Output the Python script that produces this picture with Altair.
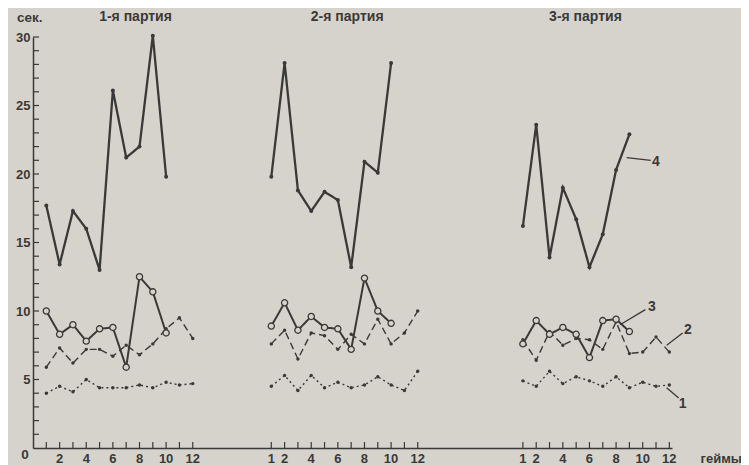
import altair as alt
import pandas as pd

# ---- data (seconds per game) ----
games = list(range(1, 13))

p1_s4 = [17.7, 13.4, 17.3, 16.0, 13.0, 26.1, 21.2, 22.0, 30.1, 19.8]
p1_s3 = [10.0, 8.3, 9.0, 7.8, 8.7, 8.8, 5.9, 12.5, 11.4, 8.4]
p1_s2 = [5.9, 7.3, 6.2, 7.2, 7.2, 6.7, 7.5, 6.8, 7.6, 8.7, 9.5, 8.0]
p1_s1 = [4.0, 4.5, 4.1, 5.0, 4.4, 4.4, 4.4, 4.6, 4.4, 4.8, 4.6, 4.7]

p2_s4 = [19.8, 28.1, 18.8, 17.3, 18.7, 18.1, 13.2, 20.9, 20.1, 28.1]
p2_s3 = [8.9, 10.6, 8.6, 9.6, 8.8, 8.7, 7.2, 12.4, 10.0, 9.1]
p2_s2 = [7.6, 8.6, 6.5, 8.4, 8.2, 7.2, 8.3, 7.6, 9.4, 7.6, 8.4, 10.0]
p2_s1 = [4.5, 5.3, 4.2, 5.3, 4.4, 4.8, 4.4, 4.6, 5.2, 4.6, 4.2, 5.6]

p3_s4 = [16.2, 23.6, 13.9, 19.0, 16.7, 13.2, 15.6, 20.3, 22.9]
p3_s3 = [7.6, 9.3, 8.3, 8.8, 8.3, 6.6, 9.3, 9.4, 8.5]
p3_s2 = [7.9, 6.4, 8.5, 7.5, 8.0, 7.9, 7.2, 9.2, 6.9, 7.0, 8.1, 7.0]
p3_s1 = [4.9, 4.5, 5.6, 4.7, 5.2, 4.9, 4.5, 5.2, 4.4, 4.8, 4.5, 4.6]

party_titles = ["1-я партия", "2-я партия", "3-я партия"]
p1_tick_labels = ["", "2", "", "4", "", "6", "", "8", "", "10", "", "12"]
p23_tick_labels = ["1", "2", "", "4", "", "6", "", "8", "", "10", "", "12"]
y_labels = [5, 10, 15, 20, 25, 30]

# ---- layout constants (not data) ----
W, H = 639, 411
BG = "#d6d3cc"
INK = "#3a3939"
FONT = "Liberation Sans"
OFFSET_EXPR = "datum.game + (datum.party == 1 ? 0 : (datum.party == 2 ? 16.9 : 35.8))"

rows = []
series_sets = {
    1: {"s4": p1_s4, "s3": p1_s3, "s2": p1_s2, "s1": p1_s1},
    2: {"s4": p2_s4, "s3": p2_s3, "s2": p2_s2, "s1": p2_s1},
    3: {"s4": p3_s4, "s3": p3_s3, "s2": p3_s2, "s1": p3_s1},
}
for party, sets in series_sets.items():
    for s, vals in sets.items():
        for g, v in zip(games, vals):
            rows.append({"party": party, "game": g, "series": s, "value": v})
df = pd.DataFrame(rows)

tick_rows = []
for party in (1, 2, 3):
    labs = p1_tick_labels if party == 1 else p23_tick_labels
    for g, lab in zip(games, labs):
        tick_rows.append({"party": party, "game": g, "label": lab})
ticks_df = pd.DataFrame(tick_rows)

xs = alt.Scale(domain=[0, 48], nice=False, zero=False)
ys = alt.Scale(domain=[0, 30], nice=False, zero=False)

X = alt.X("u:Q", scale=xs,
          axis=alt.Axis(title=None, labels=False, ticks=False, grid=False,
                        domainColor=INK, domainWidth=1.5))
Y = alt.Y("value:Q", scale=ys,
          axis=alt.Axis(title=None, values=y_labels, ticks=False, grid=False,
                        domainColor=INK, domainWidth=1.5, labelColor=INK,
                        labelFont=FONT, labelFontSize=13, labelFontWeight="bold",
                        labelPadding=3))

base = alt.Chart(df).transform_calculate(u=OFFSET_EXPR)


def series_layer(s, width, dash, point_size, filled):
    d = base.transform_filter(alt.datum.series == s)
    line = d.mark_line(color=INK, strokeWidth=width, strokeDash=dash).encode(
        x=X, y=Y, detail="party:N")
    if filled:
        pts = d.mark_point(filled=True, color=INK, size=point_size, opacity=1).encode(
            x="u:Q", y="value:Q")
    else:
        pts = d.mark_point(filled=True, fill=BG, stroke=INK, strokeWidth=1.3,
                           size=point_size, opacity=1).encode(x="u:Q", y="value:Q")
    return line + pts


l1 = series_layer("s1", 1.4, [2, 3], 12, True)
l2 = series_layer("s2", 1.4, [7, 4], 12, True)
l3 = series_layer("s3", 2.0, [1, 0], 38, False)
l4 = series_layer("s4", 2.3, [1, 0], 16, True)

tbase = alt.Chart(ticks_df).transform_calculate(u=OFFSET_EXPR)
xticks = tbase.mark_rule(color=INK, strokeWidth=1.2).encode(
    x="u:Q", y=alt.value(H), y2=alt.value(H - 6))
xlabels = tbase.mark_text(color=INK, font=FONT, fontSize=13, fontWeight="bold",
                          baseline="middle").encode(
    x="u:Q", y=alt.value(H + 11), text="label:N")

ytick_df = pd.DataFrame({"value": list(range(1, 31))})
yticks = alt.Chart(ytick_df).mark_rule(color=INK, strokeWidth=1.2).encode(
    y="value:Q", x=alt.value(0), x2=alt.value(6))

# titles and axis captions (positions in data coordinates)
titles_df = pd.DataFrame({"u": [7.7, 23.6, 41.5], "value": [31.45, 31.45, 31.45],
                          "text": party_titles})
titles = alt.Chart(titles_df).mark_text(color=INK, font=FONT, fontSize=14,
                                        fontWeight="bold").encode(
    x="u:Q", y="value:Q", text="text:N")

caps_df = pd.DataFrame({"u": [-0.25, -0.6], "value": [31.4, -0.5],
                        "text": ["сек.", "0"]})
caps = alt.Chart(caps_df).mark_text(color=INK, font=FONT, fontSize=13.5,
                                    fontWeight="bold").encode(
    x="u:Q", y="value:Q", text="text:N")
geimy = alt.Chart(pd.DataFrame({"u": [51.7], "t": ["геймы"]})).mark_text(
    color=INK, font=FONT, fontSize=13, fontWeight="bold", baseline="middle").encode(
    x="u:Q", y=alt.value(H + 11), text="t:N")

# series leader lines and numbers
lead_df = pd.DataFrame({
    "u": [44.6, 44.1, 47.6, 47.6],
    "value": [21.2, 9.0, 7.5, 4.4],
    "u2": [46.4, 46.0, 48.8, 48.5],
    "value2": [21.0, 10.1, 8.4, 3.65],
})
leads = alt.Chart(lead_df).mark_rule(color=INK, strokeWidth=1.3).encode(
    x="u:Q", y="value:Q", x2="u2:Q", y2="value2:Q")
nums_df = pd.DataFrame({"u": [46.5, 46.2, 48.9, 48.5], "value": [20.9, 10.3, 8.6, 3.2],
                        "text": ["4", "3", "2", "1"]})
nums = alt.Chart(nums_df).mark_text(color=INK, font=FONT, fontSize=14,
                                    fontWeight="bold", align="left").encode(
    x="u:Q", y="value:Q", text="text:N")

chart = alt.layer(
    l1, l2, l3, l4, xticks, xlabels, yticks, titles, caps, geimy, leads, nums
).properties(
    width=W, height=H,
    autosize=alt.AutoSizeParams(type="none"),
    padding={"left": 25, "top": 29, "right": 69, "bottom": 17},
    background=BG,
).configure_view(stroke=None)

chart.save("out.html", embed_options={"renderer": "svg", "actions": False})
